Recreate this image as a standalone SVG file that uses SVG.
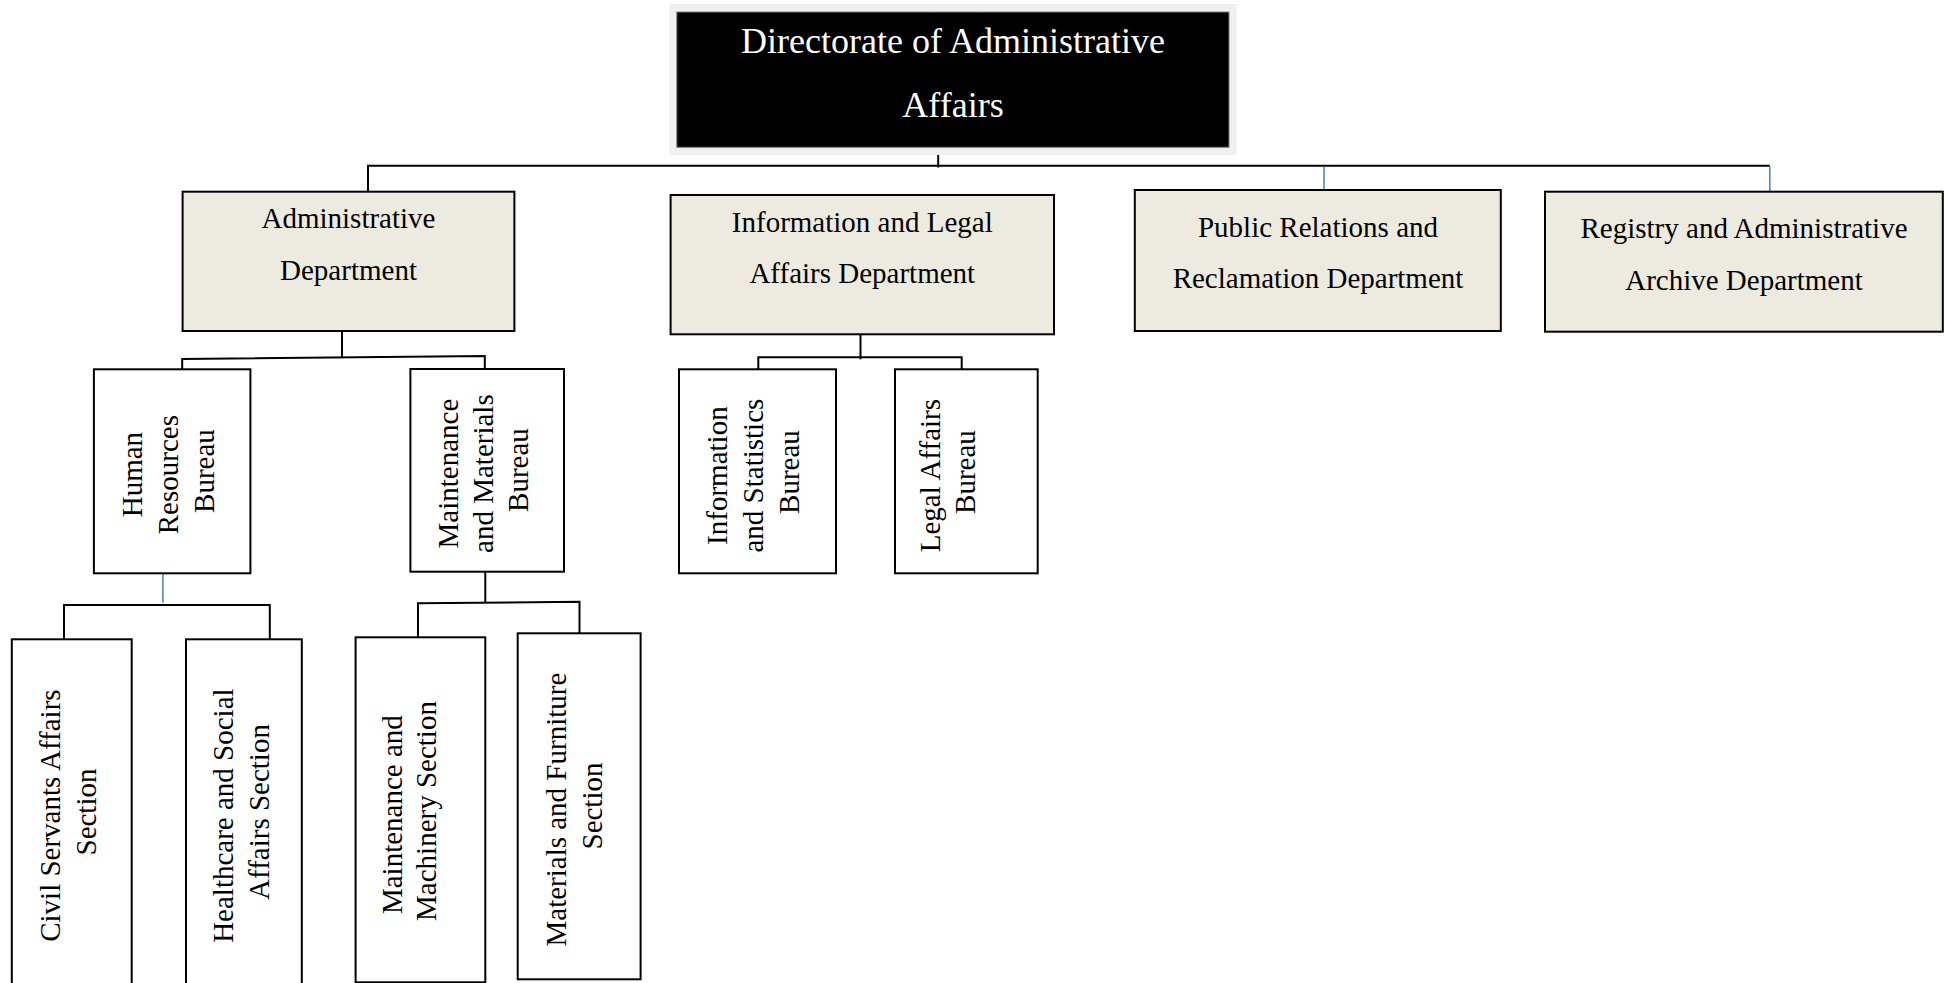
<svg xmlns="http://www.w3.org/2000/svg" width="1947" height="983" viewBox="0 0 1947 983">
<style>
  .t { font-family: "Liberation Serif", "Times New Roman", serif; font-size: 29px; fill: #000; text-anchor: middle; }
  .title { font-family: "Liberation Serif", "Times New Roman", serif; font-size: 36px; fill: #fff; text-anchor: middle; }
  .dept { fill: #EDEBE0; stroke: #000; stroke-width: 2; }
  .box { fill: #fff; stroke: #000; stroke-width: 2; }
  .ln { fill: none; stroke: #000; stroke-width: 2; }
  .bl { fill: none; stroke: #4A7EBB; stroke-width: 1.5; }
</style>
<rect width="1947" height="983" fill="#fff"/>

<g id="connectors">
  <path class="ln" d="M938.2 147 V167.5"/>
  <path class="ln" d="M368 191.7 V165.7 H1769.8"/>
  <path class="bl" d="M1324 166.5 V190"/>
  <path class="bl" d="M1769.8 166.5 V191.7"/>
  <path class="ln" d="M342 331 V358"/>
  <path class="ln" d="M182.2 369.3 V359 L484.8 356 V369"/>
  <path class="ln" d="M860.5 334 V359.3"/>
  <path class="ln" d="M758.3 369.3 V357.3 H961.7 V369.3"/>
  <path class="bl" d="M162.9 567.3 V602.7"/>
  <path class="ln" d="M64 639.3 V605 H269.8 V639.3"/>
  <path class="ln" d="M485.3 571.7 V602.5"/>
  <path class="ln" d="M418 637 V603.3 L579.5 601.7 V636"/>
</g>

<g id="directorate">
  <rect x="669.6" y="4" width="567" height="151" fill="#F0F0F0"/>
  <rect x="676.8" y="12" width="552.2" height="135.3" fill="#000" stroke="#7f7f7f" stroke-width="1"/>
  <text class="title" x="953" y="53.3">Directorate of Administrative</text>
  <text class="title" x="953" y="116.7">Affairs</text>
</g>

<g id="administrative-department">
  <rect class="dept" x="182.6" y="191.7" width="331.8" height="139.3"/>
  <text class="t" x="348.5" y="228.3">Administrative</text>
  <text class="t" x="348.5" y="280">Department</text>
</g>

<g id="information-legal-department">
  <rect class="dept" x="670.6" y="195" width="383.4" height="139.3"/>
  <text class="t" x="862.3" y="231.7">Information and Legal</text>
  <text class="t" x="862.3" y="283.3">Affairs Department</text>
</g>

<g id="public-relations-department">
  <rect class="dept" x="1134.8" y="190" width="366" height="141"/>
  <text class="t" x="1318" y="237.3">Public Relations and</text>
  <text class="t" x="1318" y="287.7">Reclamation Department</text>
</g>

<g id="registry-department">
  <rect class="dept" x="1545" y="191.7" width="397.8" height="140"/>
  <text class="t" x="1744" y="238.3">Registry and Administrative</text>
  <text class="t" x="1744" y="290">Archive Department</text>
</g>

<g id="human-resources-bureau">
  <rect class="box" x="93.9" y="369.3" width="156.5" height="204"/>
  <text class="t" transform="translate(0 471) rotate(-90)">
    <tspan x="0" y="142">Human</tspan>
    <tspan x="0" y="178">Resources</tspan>
    <tspan x="0" y="214">Bureau</tspan>
  </text>
</g>

<g id="maintenance-materials-bureau">
  <rect class="box" x="410.4" y="369" width="153.6" height="202.7"/>
  <text class="t" transform="translate(0 470) rotate(-90)">
    <tspan x="0" y="458">Maintenance</tspan>
    <tspan x="0" y="493">and Materials</tspan>
    <tspan x="0" y="528">Bureau</tspan>
  </text>
</g>

<g id="information-statistics-bureau">
  <rect class="box" x="679" y="369.3" width="157" height="204"/>
  <text class="t" transform="translate(0 472) rotate(-90)">
    <tspan x="0" y="727">Information</tspan>
    <tspan x="0" y="763">and Statistics</tspan>
    <tspan x="0" y="799">Bureau</tspan>
  </text>
</g>

<g id="legal-affairs-bureau">
  <rect class="box" x="895" y="369.3" width="142.7" height="204"/>
  <text class="t" transform="translate(0 472) rotate(-90)">
    <tspan x="0" y="940">Legal Affairs</tspan>
    <tspan x="0" y="975">Bureau</tspan>
  </text>
</g>

<g id="civil-servants-section">
  <rect class="box" x="11.8" y="639.3" width="119.9" height="350"/>
  <text class="t" transform="translate(0 812) rotate(-90)">
    <tspan x="0" y="60">Civil Servants  Affairs</tspan>
    <tspan x="0" y="96">Section</tspan>
  </text>
</g>

<g id="healthcare-social-section">
  <rect class="box" x="186" y="639.3" width="115.8" height="350"/>
  <text class="t" transform="translate(0 812) rotate(-90)">
    <tspan x="0" y="233">Healthcare and Social</tspan>
    <tspan x="0" y="269">Affairs Section</tspan>
  </text>
</g>

<g id="maintenance-machinery-section">
  <rect class="box" x="355.6" y="637.3" width="129.7" height="345"/>
  <text class="t" transform="translate(0 811) rotate(-90)">
    <tspan x="0" y="402">Maintenance and</tspan>
    <tspan x="0" y="436">Machinery Section</tspan>
  </text>
</g>

<g id="materials-furniture-section">
  <rect class="box" x="517.7" y="633.3" width="122.9" height="346"/>
  <text class="t" transform="translate(0 806) rotate(-90)">
    <tspan x="0" y="566">Materials and Furniture</tspan>
    <tspan x="0" y="602">Section</tspan>
  </text>
</g>
</svg>
